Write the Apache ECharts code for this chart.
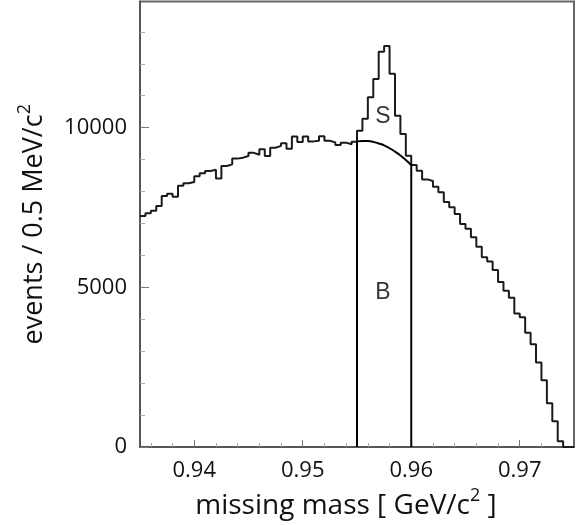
<!DOCTYPE html>
<html>
<head>
    <meta charset="utf-8">
    <title>missing mass</title>
    <script src="https://cdn.jsdelivr.net/npm/echarts@6/dist/echarts.min.js"></script>
    <style>
        html, body { margin: 0; padding: 0; background: #fff; }
        #main { width: 580px; height: 525px; }
    </style>
</head>
<body>
<div id="main"></div>
<script>
    // histogram, 0.5 MeV bins from 0.935 GeV
    var binStart = 0.935;
    var binWidth = 0.0005;
    var counts = [
        7230, 7320, 7400, 7550, 7860, 7930, 7840, 8180, 8260, 8300,
        8480, 8570, 8640, 8680, 8410, 8800, 8850, 9030, 9060, 9110,
        9210, 9150, 9320, 9110, 9370, 9430, 9510, 9340, 9720, 9550,
        9720, 9570, 9590, 9730, 9590, 9540, 9460, 9530, 9480, 9560,
        9900, 10280, 10950, 11520, 12380, 12560, 11690, 10370, 9800, 9120,
        8830, 8650, 8380, 8330, 8150, 7975, 7670, 7505, 7295, 6980,
        6835, 6565, 6270, 5940, 5810, 5540, 5165, 4890, 4670, 4180,
        4060, 3580, 3215, 2645, 2090, 1370, 810, 180, 0, 0
    ];

    // background curve under the peak
    var fitX = [0.955, 0.9555, 0.956, 0.9565, 0.957, 0.9575, 0.958, 0.9585, 0.959, 0.9595, 0.96];
    var fitY = [9570, 9585, 9580, 9555, 9505, 9445, 9355, 9250, 9130, 8990, 8830];

    var windowEdges = [0.955, 0.96];

    var xMajorTicks = [0.94, 0.95, 0.96, 0.97];
    var xMinorTicks = [0.936, 0.938, 0.942, 0.944, 0.946, 0.948, 0.952, 0.954,
        0.956, 0.958, 0.962, 0.964, 0.966, 0.968, 0.972, 0.974];
    var yMajorTicks = [0, 5000, 10000];
    var yMinorTicks = [1000, 2000, 3000, 4000, 6000, 7000, 8000, 9000, 11000, 12000, 13000];

    var xMin = 0.935, xMax = 0.975;
    var yMin = 0, yMax = 13950;

    var regionNames = ['S', 'B'];
    var regionX = [0.9574, 0.9574];
    var regionY = [10330, 4830];

    var histData = counts.map(function (c, i) {
        return [binStart + i * binWidth, c];
    });
    histData.push([binStart + counts.length * binWidth, 0]);

    var fitData = fitX.map(function (x, i) { return [x, fitY[i]]; });

    var edgeSeries = windowEdges.map(function (x, i) {
        var top = i === 0 ? fitY[0] : fitY[fitY.length - 1];
        return {
            type: 'line',
            data: [[x, 0], [x, top]],
            symbol: 'none',
            silent: true,
            lineStyle: {color: '#000', width: 2}
        };
    });

    var labelData = regionNames.map(function (n, i) {
        return {name: n, value: [regionX[i], regionY[i]]};
    });

    var font = 'Open Sans';
    // superscript sits at the top of a taller line
    var supStyle = {fontFamily: font, fontSize: 18, lineHeight: 18, verticalAlign: 'top', color: '#111'};
    var myChart = echarts.init(document.getElementById('main'), null, {renderer: 'canvas'});

    var option = {
        animation: false,
        backgroundColor: '#fff',
        grid: {
            left: 140, right: 6, top: 1.5, bottom: 78,
            show: true, borderColor: '#666', borderWidth: 2,
            containLabel: false,
            outerBoundsMode: 'none'
        },
        xAxis: [{
            type: 'value', min: xMin, max: xMax, position: 'bottom',
            name: 'missing mass [ GeV/c{s|2} ]',
            nameLocation: 'middle', nameGap: 38,
            nameTextStyle: {
                fontFamily: font, fontSize: 28, lineHeight: 38, color: '#111',
                padding: [0, 22, 0, 0],
                rich: {s: supStyle}
            },
            axisLine: {show: true, lineStyle: {color: '#555', width: 2}},
            axisTick: {show: true, inside: true, length: 7, customValues: xMajorTicks,
                lineStyle: {color: '#777', width: 1}},
            axisLabel: {customValues: xMajorTicks, margin: 13, fontFamily: font, fontSize: 22, color: '#111',
                formatter: function (v) { return v.toFixed(2); }},
            splitLine: {show: false}
        }, {
            type: 'value', min: xMin, max: xMax, position: 'bottom',
            axisLine: {show: false},
            axisTick: {show: true, inside: true, length: 4, customValues: xMinorTicks,
                lineStyle: {color: '#aaa', width: 1}},
            axisLabel: {show: false},
            splitLine: {show: false}
        }],
        yAxis: [{
            type: 'value', min: yMin, max: yMax, position: 'left',
            name: 'events / 0.5 MeV/c{s|2}',
            nameLocation: 'middle', nameGap: 86,
            nameTextStyle: {
                fontFamily: font, fontSize: 27, lineHeight: 37, color: '#111',
                rich: {s: supStyle}
            },
            axisLine: {show: true, lineStyle: {color: '#555', width: 2}},
            axisTick: {show: true, inside: true, length: 9, customValues: yMajorTicks,
                lineStyle: {color: '#777', width: 1}},
            axisLabel: {customValues: yMajorTicks, margin: 13, fontFamily: font, fontSize: 22, color: '#111',
                formatter: function (v) { return String(v); }},
            splitLine: {show: false}
        }, {
            type: 'value', min: yMin, max: yMax, position: 'left',
            axisLine: {show: false},
            axisTick: {show: true, inside: true, length: 5, customValues: yMinorTicks,
                lineStyle: {color: '#aaa', width: 1}},
            axisLabel: {show: false},
            splitLine: {show: false}
        }],
        series: [{
            type: 'line',
            data: histData,
            step: 'end',
            symbol: 'none',
            silent: true,
            lineStyle: {color: '#1a1a1a', width: 2}
        }, {
            type: 'line',
            data: fitData,
            smooth: true,
            symbol: 'none',
            silent: true,
            lineStyle: {color: '#000', width: 2}
        }].concat(edgeSeries).concat([{
            type: 'scatter',
            data: labelData,
            symbolSize: 0,
            silent: true,
            label: {
                show: true, position: 'inside', formatter: '{b}',
                fontFamily: 'Liberation Sans', fontSize: 23, color: '#000'
            }
        }])
    };
    myChart.setOption(option);
</script>
</body>
</html>
